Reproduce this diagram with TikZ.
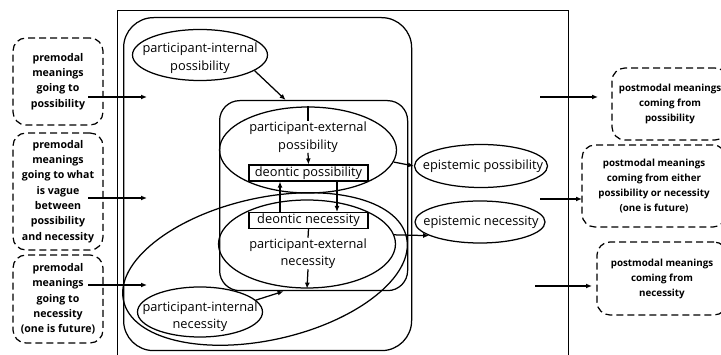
\documentclass[tikz,border=0pt]{standalone}
\usepackage{fontspec}
\setmainfont{Open Sans}
\usetikzlibrary{shapes.geometric,arrows.meta,calc}

\begin{document}
\begin{tikzpicture}[x=1pt,y=-1pt,
  line width=1.25pt,
  >={Latex[length=6pt,width=5pt]},
  oval/.style={ellipse, draw, inner sep=0pt},
  lbl/.style={align=center, inner sep=0pt, font=\fontsize{12.8}{17.5}\selectfont},
  tag/.style={draw, rectangle, inner sep=0pt, line width=1.1pt, font=\fontsize{12.8}{15}\selectfont},
  region/.style={draw, rectangle, inner sep=0pt},
  pre/.style={draw, dash pattern=on 7pt off 4pt, rounded corners=13pt, align=center,
    inner sep=0pt, font=\bfseries\fontsize{10.6}{15.3}\selectfont},
  post/.style={pre, font=\bfseries\fontsize{9.8}{15}\selectfont},
]
\useasboundingbox (0,0) rectangle (721,355);

% frames
\node[region, line width=1.4pt, minimum width=451, minimum height=352, anchor=north west] (frame) at (117,10) {};
\node[region, rounded corners=30pt, minimum width=288, minimum height=333, anchor=north west] (possreg) at (123,17) {};
\node[region, rounded corners=20pt, minimum width=188, minimum height=190, anchor=north west] (extreg) at (219,100) {};
% necessity region
\draw[rotate around={12.7:(265,269)}] (265,269) ellipse [x radius=145, y radius=71];

% ellipses and their labels
\node[oval, minimum width=135, minimum height=51] (pip) at (200,55) {};
\node[lbl] (pipt) at (200,58) {participant-internal\\possibility};
\node[oval, minimum width=177, minimum height=86] (pep) at (308,150) {};
\node[lbl] (pept) at (308,137) {participant-external\\possibility};
\node[tag, minimum width=119, minimum height=16] (dp) at (308.5,173) {deontic possibility};
\node[tag, minimum width=119, minimum height=16] (dn) at (308.5,220.5) {deontic necessity};
\node[oval, minimum width=177, minimum height=88] (pen) at (307,244) {};
\node[lbl] (pent) at (308,253.5) {participant-external\\necessity};
\node[oval, minimum width=125, minimum height=50] (pin) at (200,312) {};
\node[lbl] (pint) at (200,316.5) {participant-internal\\necessity};
\node[oval, minimum width=133, minimum height=43] (ep) at (481,166) {};
\node[lbl] (ept) at (483,166) {epistemic possibility};
\node[oval, minimum width=130, minimum height=42] (en) at (480,222) {};
\node[lbl] (ent) at (481,222) {epistemic necessity};

% premodal and postmodal boxes
\node[pre, minimum width=90, minimum height=87] (pm1) at (58,81.5) {premodal\\meanings\\going to\\possibility};
\node[pre, minimum width=90, minimum height=117] (pm2) at (58,191.5) {premodal\\meanings\\going to what\\is vague\\between\\possibility\\and necessity};
\node[pre, minimum width=90, minimum height=88] (pm3) at (58,299) {premodal\\meanings\\going to\\necessity\\(one is future)};
\node[post, minimum width=116, minimum height=72] (po1) at (670,104) {postmodal meanings\\coming from\\possibility};
\node[post, minimum width=144, minimum height=82] (po2) at (654,186) {postmodal meanings\\coming from either\\possibility or necessity\\(one is future)};
\node[post, minimum width=130, minimum height=73] (po3) at (662,278.5) {postmodal meanings\\coming from\\necessity};

% arrow ends
\coordinate (a1) at (88,97);   \coordinate (b1) at (147,97);
\coordinate (a2) at (88,198);  \coordinate (b2) at (147,198);
\coordinate (a3) at (88,285);  \coordinate (b3) at (147,285);
\coordinate (c1) at (540,97);  \coordinate (d1) at (598,97);
\coordinate (c2) at (540,199); \coordinate (d2) at (582,199);
\coordinate (c3) at (535,286); \coordinate (d3) at (592,286);

\draw[->] (a1) -- (b1);
\draw[->] (a2) -- (b2);
\draw[->] (a3) -- (b3);
\draw[->] (c1) -- (d1);
\draw[->] (c2) -- (d2);
\draw[->] (c3) -- (d3);

% connectors inside the frame
\draw[->] (pip.-16) -- ($(extreg.north)+(-28,0)$);
\draw[->] (pin.12) -- ($(extreg.south)+(-30,0)$);
\draw (pep.north) -- (pept.north);
\draw[->] (pept.south) -- (dp.north);
\draw[->] ([xshift=28.5pt]dp.south) -- ([xshift=28.5pt]dn.north);
\draw[->] ([xshift=-28.5pt]dn.north) -- ([xshift=-28.5pt]dp.south);
\draw (dn.south) -- (pent.north);
\draw[->] (pent.south) -- (pen.south);
\draw[->] (pep.-8) -- (ep.west);
\draw[->] (pen.6) -- (en.195);
\end{tikzpicture}
\end{document}
